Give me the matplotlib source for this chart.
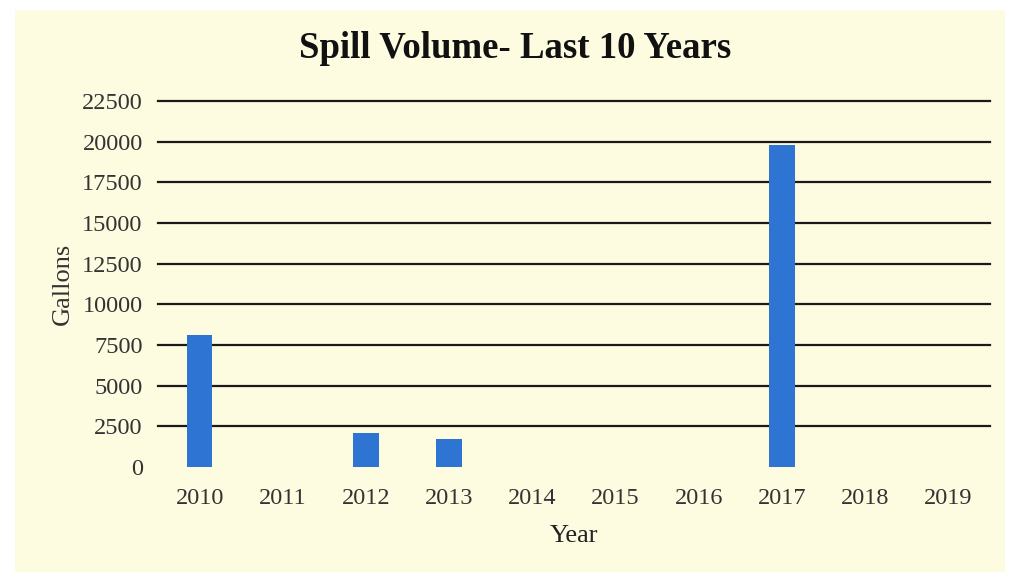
import matplotlib.pyplot as plt
from matplotlib.patches import Rectangle

years = ['2010', '2011', '2012', '2013', '2014', '2015', '2016', '2017', '2018', '2019']
gallons = [8100, 0, 2100, 1700, 0, 0, 0, 19800, 0, 0]
y_ticks = [0, 2500, 5000, 7500, 10000, 12500, 15000, 17500, 20000, 22500]

plt.rcParams['font.family'] = ['Liberation Serif', 'DejaVu Serif']

fig = plt.figure(figsize=(10.12, 5.8), dpi=100)
fig.patch.set_facecolor('white')
# pale yellow panel from the scan, kept behind the axes
fig.patches.append(Rectangle((15 / 1012, 8 / 580), 990 / 1012, 562 / 580,
                             transform=fig.transFigure, facecolor='#fdfbe0',
                             edgecolor='none', zorder=-5))

ax = fig.add_axes([158 / 1012, 1 - 467 / 580, 832 / 1012, 366 / 580])
ax.set_facecolor('none')

x = range(len(years))
ax.bar(x, gallons, width=0.31, color='#2e74d2', zorder=3)

ax.set_xlim(-0.5, len(years) - 0.5)
ax.set_ylim(0, 22500)
ax.set_yticks(y_ticks)
ax.set_yticklabels([str(t) for t in y_ticks])
ax.set_xticks(list(x))
ax.set_xticklabels(years)
for t in y_ticks[1:]:
    ax.axhline(t, color='#1a1a1a', lw=1.6, zorder=2, clip_on=False)

for s in ax.spines.values():
    s.set_visible(False)
ax.tick_params(length=0, labelsize=17.5, colors='#333333', pad=11)
ax.tick_params(axis='x', pad=15)

ax.set_xlabel('Year', fontsize=19, color='#222222', labelpad=12)
ax.set_ylabel('Gallons', fontsize=19, color='#333333', labelpad=6)
fig.text(515 / 1012, 1 - 48 / 580, 'Spill Volume- Last 10 Years', ha='center',
         va='center', fontsize=26.5, fontweight='bold', color='#111111')

fig.savefig('out.png', dpi=100)
